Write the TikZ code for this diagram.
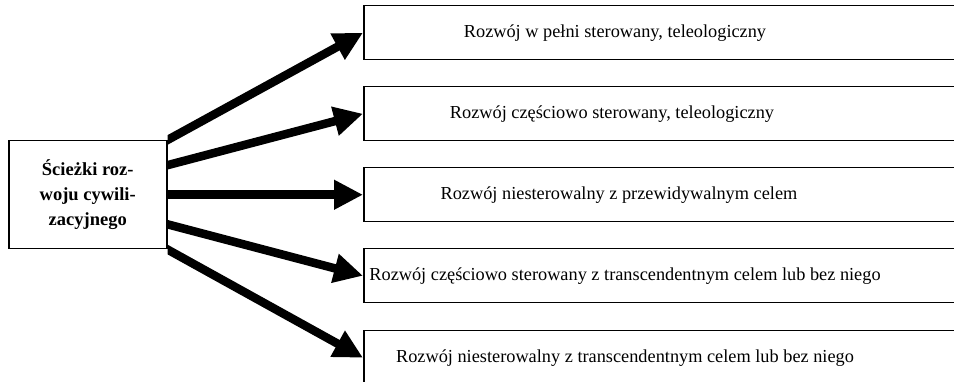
\documentclass[tikz,border=0pt]{standalone}
\usepackage{fontspec}
\setmainfont{Liberation Serif}
\usetikzlibrary{arrows.meta,calc}
\begin{document}
\begin{tikzpicture}[x=1pt,y=-1pt,
  box/.style={draw=black,line width=1.5pt,rectangle,inner sep=0pt},
  rbox/.style={box,anchor=north west,minimum width=660pt,minimum height=54pt},
  lbl/.style={font=\fontsize{18.3}{20}\selectfont,inner sep=0pt},
  fat/.style={line width=8.5pt,-{Triangle[length=29pt,width=28pt]}}]
\useasboundingbox (0,0) rectangle (954,382);
\clip (0,0) rectangle (954,382);
\node[box,anchor=north west,minimum width=158pt,minimum height=108pt,
  align=center,font=\bfseries\fontsize{18.5}{25}\selectfont] (L) at (8,140)
  {Ścieżki roz-\\woju cywili-\\zacyjnego};
\node[rbox] (R1) at (363,5) {};
\node[rbox] (R2) at (363,86) {};
\node[rbox] (R3) at (363,167) {};
\node[rbox] (R4) at (363,248) {};
\node[rbox] (R5) at (363,330) {};
\node[lbl] (T1) at ($(R1.west)+(252,0)$) {Rozwój w pełni sterowany, teleologiczny};
\node[lbl] (T2) at ($(R2.west)+(249,0)$) {Rozwój częściowo sterowany, teleologiczny};
\node[lbl] (T3) at ($(R3.west)+(256,0)$) {Rozwój niesterowalny z przewidywalnym celem};
\node[lbl] (T4) at ($(R4.west)+(262,0)$) {Rozwój częściowo sterowany z transcendentnym celem lub bez niego};
\node[lbl] (T5) at ($(R5.west)+(262,0)$) {Rozwój niesterowalny z transcendentnym celem lub bez niego};
\coordinate (S1) at ($(L.north east)+(0,0)$);
\coordinate (S2) at ($(L.north east)!0.23!(L.south east)$);
\coordinate (S3) at (L.east);
\coordinate (S4) at ($(L.north east)!0.77!(L.south east)$);
\coordinate (S5) at ($(L.south east)+(0,0)$);
\begin{scope}
\clip (L.east |- 0,0) rectangle (954,382);
\draw[fat] ($(S1)!-6pt!(R1.west)$) -- (R1.west);
\draw[fat] ($(S2)!-6pt!(R2.west)$) -- (R2.west);
\draw[fat] ($(S3)!-6pt!(R3.west)$) -- (R3.west);
\draw[fat] ($(S4)!-6pt!(R4.west)$) -- (R4.west);
\draw[fat] ($(S5)!-6pt!(R5.west)$) -- (R5.west);
\end{scope}
\end{tikzpicture}
\end{document}
